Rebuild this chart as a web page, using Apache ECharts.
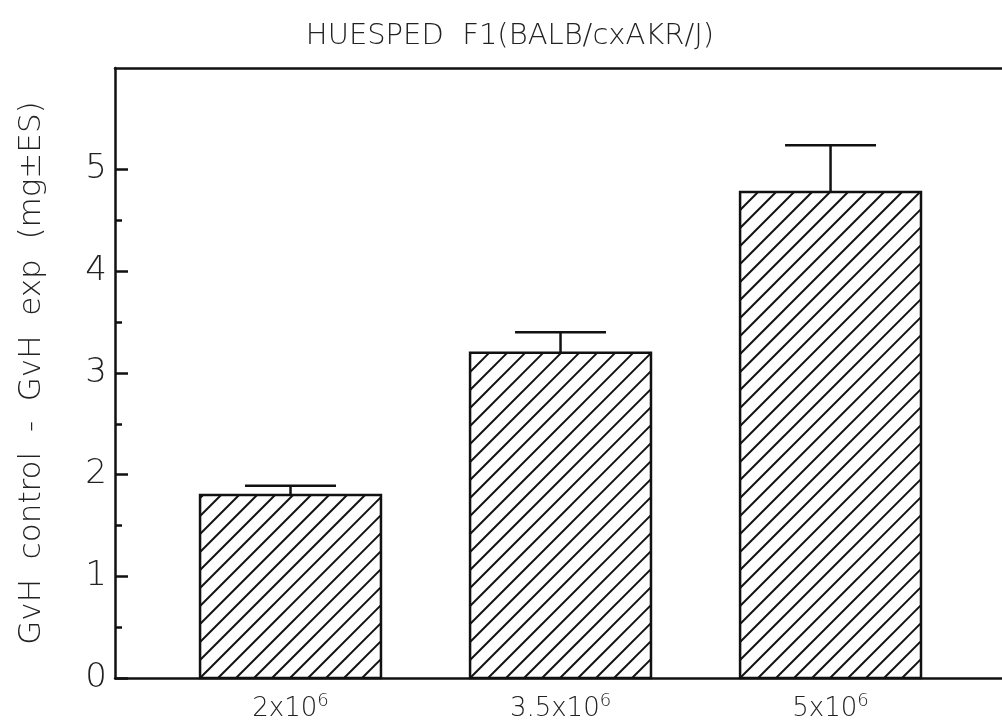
<!DOCTYPE html>
<html>
<head>
<meta charset="utf-8">
<script src="https://cdn.jsdelivr.net/npm/echarts@6/dist/echarts.min.js"></script>
<style>
  html, body { margin: 0; padding: 0; background: #fff; }
  #chart { width: 1002px; height: 725px; }
</style>
</head>
<body>
<div id="chart"></div>
<script>
// Cell doses (x positions 1..3) and weight difference in mg (mean ± standard error)
const doseLabels = ['2x10|6', '3.5x10|6', '5x10|6'];
const positions = [1, 2, 3];
const means = [1.8, 3.2, 4.78];
const stdErrors = [0.09, 0.2, 0.46];
const majorTicks = [0, 1, 2, 3, 4, 5];
const minorTicks = [0.5, 1.5, 2.5, 3.5, 4.5];

const BAR_WIDTH = 0.67;    // in x-axis units
const CAP_WIDTH = 0.337;
const HATCH_STEP = 18;     // px between hatch lines
const INK = '#111';
const TEXT = '#222';
const FONT = '"DejaVu Sans", sans-serif';

const data = positions.map((p, i) => [p, means[i], stdErrors[i]]);

function renderBar(params, api) {
  const x = api.value(0), v = api.value(1), e = api.value(2);
  const base = api.coord([x, 0]);
  const top = api.coord([x, v]);
  const errTop = api.coord([x, v + e]);
  const half = api.size([BAR_WIDTH, 0])[0] / 2;
  const capHalf = api.size([CAP_WIDTH, 0])[0] / 2;
  const x0 = base[0] - half, x1 = base[0] + half;
  const y0 = top[1], y1 = base[1];
  const children = [];
  // diagonal "/" hatching clipped to the bar rectangle
  for (let c = x0 + y1 - Math.floor((x1 - x0 + y1 - y0) / HATCH_STEP) * HATCH_STEP; c <= x1 + y1; c += HATCH_STEP) {
    const xa = Math.max(x0, c - y1);
    const xb = Math.min(x1, c - y0);
    if (xb - xa > 0.5) {
      children.push({
        type: 'line',
        shape: { x1: xa, y1: c - xa, x2: xb, y2: c - xb },
        style: { stroke: INK, lineWidth: 2 }
      });
    }
  }
  children.push({
    type: 'rect',
    shape: { x: x0, y: y0, width: x1 - x0, height: y1 - y0 },
    style: { fill: 'none', stroke: INK, lineWidth: 2.5 }
  });
  // error bar: stem and cap
  children.push({
    type: 'line',
    shape: { x1: base[0], y1: y0, x2: base[0], y2: errTop[1] },
    style: { stroke: INK, lineWidth: 2.5 }
  });
  children.push({
    type: 'line',
    shape: { x1: base[0] - capHalf, y1: errTop[1], x2: base[0] + capHalf, y2: errTop[1] },
    style: { stroke: INK, lineWidth: 2.5 }
  });
  return { type: 'group', children };
}

const chart = echarts.init(document.getElementById('chart'), null, { renderer: 'canvas' });

const X_MIN = 0.35, X_MAX = 3.635;

chart.setOption({
  backgroundColor: '#fff',
  animation: false,
  title: {
    text: 'HUESPED  F1(BALB/cxAKR/J)',
    left: 505,
    textAlign: 'center',
    top: 17,
    textStyle: { fontFamily: FONT, fontWeight: 200, fontSize: 29, color: TEXT }
  },
  grid: { left: 115, top: 68, bottom: 47, right: 0 },
  xAxis: [
    {
      type: 'value',
      min: X_MIN,
      max: X_MAX,
      splitLine: { show: false },
      axisLine: { show: true, onZero: false, lineStyle: { color: INK, width: 2.5 } },
      axisTick: { show: false },
      axisLabel: {
        customValues: positions,
        margin: 14,
        formatter: (val) => {
          const parts = doseLabels[Math.round(val) - 1].split('|');
          return '{b|' + parts[0] + '}{s|' + parts[1] + '}';
        },
        rich: {
          b: { fontFamily: FONT, fontWeight: 200, fontSize: 26, color: TEXT, lineHeight: 30, verticalAlign: 'bottom' },
          s: { fontFamily: FONT, fontWeight: 200, fontSize: 18, color: TEXT, lineHeight: 18, verticalAlign: 'top' }
        }
      }
    },
    {
      // top frame line
      type: 'value',
      position: 'top',
      min: X_MIN,
      max: X_MAX,
      splitLine: { show: false },
      axisLine: { show: true, onZero: false, lineStyle: { color: INK, width: 2.5 } },
      axisTick: { show: false },
      axisLabel: { show: false }
    }
  ],
  yAxis: [
    {
      type: 'value',
      min: 0,
      max: 6,
      interval: 1,
      name: 'GvH  control  -  GvH  exp  (mg±ES)',
      nameLocation: 'middle',
      nameGap: 68,
      nameTextStyle: { fontFamily: FONT, fontWeight: 200, fontSize: 31, color: TEXT },
      splitLine: { show: false },
      axisLine: { show: true, onZero: false, lineStyle: { color: INK, width: 2.5 } },
      axisTick: { show: true, inside: true, length: 13, customValues: majorTicks, lineStyle: { color: INK, width: 2.5 } },
      axisLabel: {
        customValues: majorTicks,
        margin: 8,
        fontFamily: FONT, fontWeight: 200, fontSize: 34, color: TEXT
      }
    },
    {
      type: 'value',
      min: 0,
      max: 6,
      interval: 1,
      position: 'left',
      splitLine: { show: false },
      axisLine: { show: false },
      axisLabel: { show: false },
      axisTick: { show: true, inside: true, length: 7, customValues: minorTicks, lineStyle: { color: INK, width: 2.5 } }
    }
  ],
  series: [{
    type: 'custom',
    renderItem: renderBar,
    data: data,
    encode: { x: 0, y: 1 },
    clip: false
  }]
});
</script>
</body>
</html>
